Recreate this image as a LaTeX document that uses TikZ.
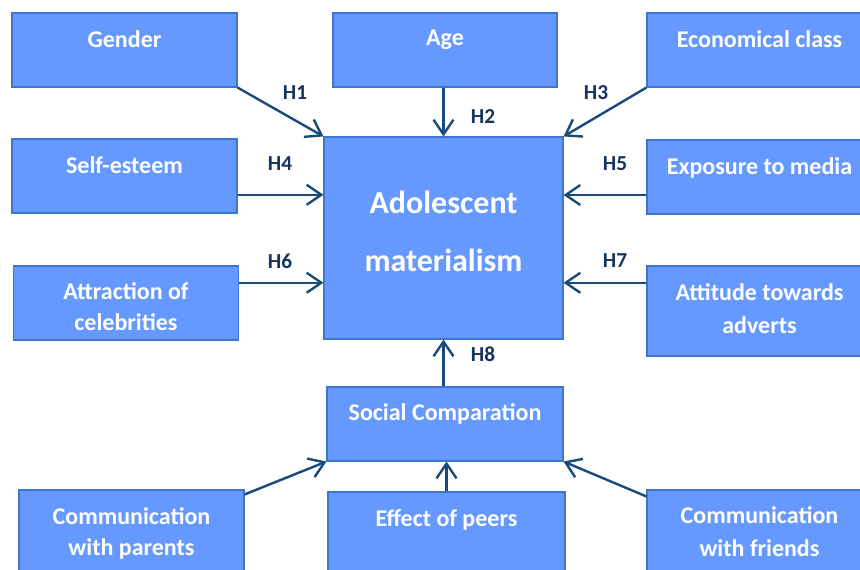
\documentclass[tikz,border=0pt]{standalone}
\usepackage{fontspec}
\setmainfont{Carlito}
\usepackage{tikz}
\usetikzlibrary{arrows.meta}
\usetikzlibrary{calc}
\usetikzlibrary{positioning}
\usepackage{xcolor}

\definecolor{boxfill}{RGB}{102,153,255}
\definecolor{boxline}{RGB}{62,117,205}
\definecolor{arrowblue}{RGB}{24,74,122}
\definecolor{hypblue}{RGB}{22,52,92}

\tikzset{
  varbox/.style={draw=boxline, line width=0.8pt, fill=boxfill, inner sep=0pt,
    minimum width=168.75pt, minimum height=55.5pt},
  boxtext/.style={text=white, font=\bfseries\fontsize{18}{23.5}\selectfont,
    align=center, inner sep=0pt, anchor=north},
  hyp/.style={text=hypblue, font=\bfseries\fontsize{16}{18}\selectfont, inner sep=0pt},
  link/.style={draw=arrowblue, line width=1.8pt,
    -{Straight Barb[length=11pt,width=15pt,line width=1.8pt]}}
}

\begin{document}
\begin{tikzpicture}[x=0.75pt,y=0.75pt,yscale=-1]
        \useasboundingbox (0,0) rectangle (860,569);
        \clip (0,0) rectangle (860,569);

        % outer variables
        \node[varbox] (gender) at (124.5,50) {};
        \node[varbox, minimum width=168pt] (age) at (445,50) {};
        \node[varbox] (econ) at (759.5,50) {};
        \node[varbox] (selfest) at (124.5,176) {};
        \node[varbox] (media) at (759.5,177) {};
        \node[varbox] (celeb) at (126,303) {};
        \node[varbox, minimum height=67.5pt] (adverts) at (759.5,311) {};

        % central variable
        \node[varbox, minimum width=179.25pt, minimum height=151.5pt] (central) at (443.5,238) {};

        % mediator and its antecedents
        \node[varbox, minimum width=177pt] (social) at (445,424) {};
        \node[varbox, minimum height=67.5pt] (parents) at (131.5,535) {};
        \node[varbox, minimum width=177.75pt, minimum height=66pt] (peers) at (446.5,536) {};
        \node[varbox, minimum height=67.5pt] (friends) at (759.5,535) {};

        % box texts
        \node[boxtext] (tgender) at ($(gender.north)+(0,17.5)$) {Gender};
        \node[boxtext] (tage) at ($(age.north)+(0,17.5)$) {Age};
        \node[boxtext] (tecon) at ($(econ.north)+(0,17.5)$) {Economical class};
        \node[boxtext] (tselfest) at ($(selfest.north)+(0,17.5)$) {Self-esteem};
        \node[boxtext] (tmedia) at ($(media.north)+(0,17.5)$) {Exposure to media};
        \node[boxtext] (tceleb) at ($(celeb.north)+(0,17)$) {Attraction of\\celebrities};
        \node[boxtext, font=\bfseries\fontsize{18}{24.5}\selectfont] (tadverts) at ($(adverts.north)+(0,18)$) {Attitude towards\\adverts};
        \node[boxtext, font=\bfseries\fontsize{24}{43.5}\selectfont] (tcentral) at ($(central.north)+(0,54)$) {Adolescent\\materialism};
        \node[boxtext] (tsocial) at ($(social.north)+(0,16.5)$) {Social Comparation};
        \node[boxtext] (tparents) at ($(parents.north)+(0,18)$) {Communication\\with parents};
        \node[boxtext] (tpeers) at ($(peers.north)+(0,17.5)$) {Effect of peers};
        \node[boxtext, font=\bfseries\fontsize{18}{24.5}\selectfont] (tfriends) at ($(friends.north)+(0,17)$) {Communication\\with friends};

        % hypotheses
        \draw[link] (gender.south east) -- (central.north west);
        \draw[link] (age.south -| central.north) -- (central.north);
        \draw[link] (econ.south west) -- (central.north east);
        \draw[link] ($(selfest.south east)!0.25!(selfest.north east)$) coordinate (s4) -- (s4 -| central.west);
        \draw[link] ($(media.south west)!0.26!(media.north west)$) coordinate (s5) -- (s5 -| central.east);
        \draw[link] ($(celeb.north east)!0.23!(celeb.south east)$) coordinate (s6) -- (s6 -| central.west);
        \draw[link] ($(adverts.north west)!0.19!(adverts.south west)$) coordinate (s7) -- (s7 -| central.east);
        \draw[link] (social.north -| central.south) -- (central.south);
        \draw[link] ($(parents.north east)+(0,5)$) -- (social.south west);
        \draw[link] (peers.north) -- (peers.north |- social.south);
        \draw[link] ($(friends.north west)+(0,7)$) -- (social.south east);

        \node[hyp] (h1) at (295,93) {H1};
        \node[hyp] (h2) at (483,116) {H2};
        \node[hyp] (h3) at (596,93) {H3};
        \node[hyp] (h4) at (280,164) {H4};
        \node[hyp] (h5) at (615,164) {H5};
        \node[hyp] (h6) at (280,261) {H6};
        \node[hyp] (h7) at (615,261) {H7};
        \node[hyp] (h8) at (483,354) {H8};

\end{tikzpicture}
\end{document}
